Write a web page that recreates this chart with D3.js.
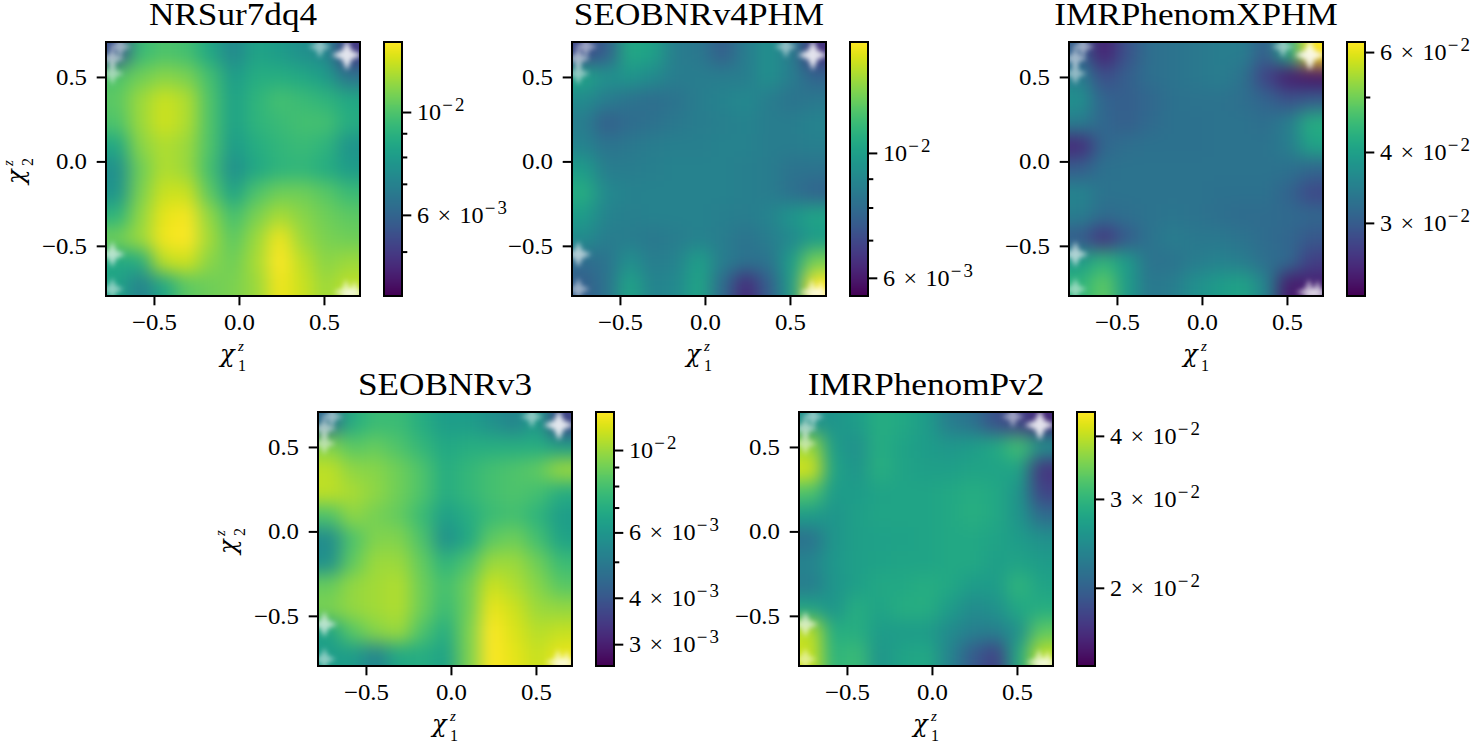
<!DOCTYPE html>
<html><head><meta charset="utf-8">
<style>html,body{margin:0;padding:0;background:#fff;overflow:hidden}svg{display:block}text{font-family:"Liberation Serif",serif;fill:#000}</style>
<script src="https://cdn.jsdelivr.net/npm/d3@7"></script></head><body><script>
// Mismatch values, in units of 1e-3, rows from top (high chi2) to bottom
const nrSur=[
[5.50,9.45,9.94,9.69,8.54,7.26,8.33,8.02,7.53,7.26,5.00],
[9.94,10.7,11.3,11.0,9.69,8.02,8.76,8.76,8.54,8.02,6.48],
[10.3,11.7,12.8,12.2,9.94,8.3,9.1,9.69,9.45,9.1,8.54],
[9.94,11.7,12.9,12.2,9.94,8.3,9.1,9.45,9.69,9.69,8.76],
[8.54,11.3,12.2,11.7,9.94,8.02,8.76,9.2,9.45,9.1,7.72],
[7.53,10.7,12.2,11.7,9.69,7.53,8.54,9.1,9.2,8.76,8.02],
[7.72,11.0,12.8,12.8,10.3,8.33,9.94,10.7,10.7,10.2,9.45],
[9.1,11.5,13.5,13.9,11.5,9.69,11.0,12.0,11.3,10.7,10.3],
[10.7,11.7,13.8,14.16,11.9,10.3,11.7,13.8,11.7,11.0,10.7],
[8.54,8.8,12.5,12.9,11.3,10.7,12.0,14.16,12.5,11.3,11.7],
[8.33,7.0,8.5,10.3,10.7,11.0,11.7,13.8,12.8,11.7,12.5]];
const seobV4=[
[7.0,7.6,10.4,10.1,8.6,8.43,7.6,8.6,9.36,8.6,6.5],
[10.2,9.36,9.56,9.16,8.6,8.6,8.6,8.6,9.36,8.6,7.76],
[9.16,8.6,8.26,8.08,8.26,8.6,8.88,9.07,8.6,8.26,8.43],
[8.6,7.6,8.0,8.17,8.43,8.6,8.69,8.88,8.6,8.6,8.88],
[8.88,8.26,8.43,8.6,8.69,8.69,8.78,8.78,8.6,8.6,8.69],
[9.86,8.6,8.6,8.69,8.78,8.78,8.78,8.69,8.6,8.26,8.26],
[10.6,9.07,8.78,8.78,8.78,8.78,8.78,8.69,8.6,8.17,7.76],
[9.86,8.88,8.69,8.78,8.78,8.78,8.69,8.6,8.88,9.56,10.2],
[9.16,8.6,8.6,8.43,8.6,8.78,8.6,8.26,8.6,9.07,9.86],
[8.0,8.26,9.36,8.6,8.78,9.97,8.6,8.2,8.26,9.86,12.7],
[7.6,8.26,10.2,8.88,9.07,10.2,8.0,6.3,7.6,9.86,15.7]];
const imrX=[
[30.4,24.5,28.9,32.3,33.0,33.7,34.4,34.4,30.4,41.4,62.5],
[34.4,28.5,30.4,32.3,33.0,33.7,34.4,33.0,27.4,24.2,23.5],
[37.3,31.0,30.4,31.3,32.7,33.0,33.0,32.3,31.0,28.9,29.8],
[34.4,31.3,30.4,31.7,32.7,32.7,33.0,33.0,32.3,34.4,42.2],
[25.2,31.3,32.3,32.7,32.7,32.7,33.0,33.0,33.0,34.4,40.5],
[30.4,32.7,33.0,33.0,33.0,33.0,33.0,33.0,33.0,32.7,31.3],
[35.5,33.0,33.0,33.0,33.0,33.0,32.7,32.7,32.7,31.0,27.9],
[34.4,32.0,32.3,33.0,33.3,33.0,32.3,32.0,32.0,31.7,31.3],
[29.8,26.0,29.8,33.0,34.4,33.7,33.7,33.0,32.0,31.3,29.5],
[39.3,43.6,39.3,33.0,33.0,34.4,35.1,34.4,32.3,31.5,27.0],
[43.6,48.4,39.3,33.7,34.4,37.3,39.3,40.5,35.5,24.0,24.5]];
const seobV3=[
[4.55,6.97,7.66,7.66,6.97,6.24,6.24,5.76,5.33,6.24,3.59],
[9.4,8.4,8.75,8.16,7.42,6.75,6.97,6.97,6.97,6.97,6.24],
[10.8,9.7,9.5,8.96,8.16,6.97,7.42,7.91,8.16,8.55,10.0],
[10.8,10.3,9.7,8.96,8.16,6.97,7.42,7.91,8.16,7.91,6.97],
[8.16,9.7,9.1,8.69,7.66,6.34,6.97,7.66,7.91,7.31,6.24],
[5.59,8.16,9.4,9.4,8.16,5.76,6.75,8.55,8.96,7.91,6.54],
[5.76,8.6,10.0,10.0,8.69,7.31,8.16,10.0,10.0,8.96,7.66],
[8.8,9.8,10.2,10.5,8.96,7.91,8.96,11.2,10.5,9.53,8.4],
[9.2,9.8,10.2,10.5,8.96,7.66,8.96,12.1,11.2,10.0,9.8],
[6.54,8.4,9.53,10.0,8.16,6.97,9.23,12.66,11.6,10.6,11.0],
[6.24,6.24,5.33,6.75,6.97,6.54,9.23,12.66,11.9,11.0,12.0]];
const imrP=[
[25.0,25.6,26.5,28.7,28.0,26.5,22.8,21.7,18.7,17.7,16.1],
[37.5,26.5,25.0,28.7,27.4,26.5,25.9,26.5,28.0,31.5,25.0],
[41.2,27.4,25.6,29.0,27.4,26.8,26.8,27.4,27.4,27.4,16.7],
[32.2,26.5,26.5,27.4,27.6,27.6,28.0,28.7,28.0,25.6,17.7],
[26.5,25.6,26.8,27.6,27.6,27.6,28.0,29.0,28.0,25.6,21.0],
[21.7,25.6,26.8,27.0,27.3,27.6,28.0,28.0,27.4,26.5,25.0],
[23.6,25.9,26.8,27.3,27.6,27.6,28.0,28.0,26.8,27.4,26.5],
[22.8,25.6,26.8,28.0,28.0,28.7,28.0,26.5,26.5,29.7,27.4],
[27.4,25.6,28.7,27.4,28.7,28.7,26.5,24.4,25.0,28.0,28.7],
[39.8,28.7,29.0,26.5,26.5,26.5,24.4,23.0,23.0,25.0,33.4],
[40.7,29.7,30.7,25.6,27.4,28.0,23.6,19.5,17.5,28.0,39.8]];

const titles=["NRSur7dq4","SEOBNRv4PHM","IMRPhenomXPHM","SEOBNRv3","IMRPhenomPv2"];
const grids=[nrSur,seobV4,imrX,seobV3,imrP];
// colour limits in units of 1e-3
const vMin=[4.01,5.57,22.3,2.62,14.0];
const vMax=[14.16,15.74,62.5,12.66,44.6];
// colourbar ticks, units of 1e-3
const majorTicks=[[10,6],[10,6],[60,40,30],[10,6,4,3],[40,30,20]];
const minorTicks=[[9,8,7,5],[9,8,7],[50],[9,8,7,5],[]];
const axisTicks=[-0.5,0,0.5];
const chi1Domain=[-0.782,0.712];
const chi2Domain=[-0.797,0.707];
// cells with no simulation: chi1, chi2, whiteness
const holeChi1=[-0.70,-0.745,-0.745,0.476,0.635,-0.745,-0.745,0.63,0.68];
const holeChi2=[0.68,0.61,0.52,0.68,0.63,-0.55,-0.757,-0.775,-0.78];
const holeStrength=[0.55,0.6,0.55,0.55,0.95,0.7,0.55,0.7,0.7];

// layout
const axW=254,axH=254,cbW=18,cbGap=24;
const axLeft=[106,572,1069,318,799];
const axTop=[42,42,42,412,412];
const TICK=23,TITLE=32;

const svg=d3.select("body").append("svg").attr("width",1471).attr("height",743);
const defs=svg.append("defs");
defs.append("filter").attr("id","smooth").attr("filterUnits","userSpaceOnUse")
 .attr("x",-100).attr("y",-100).attr("width",500).attr("height",500)
 .attr("color-interpolation-filters","sRGB")
 .append("feGaussianBlur").attr("stdDeviation",9);
defs.append("filter").attr("id","soft").attr("x","-60%").attr("y","-60%").attr("width","220%").attr("height","220%")
 .append("feGaussianBlur").attr("stdDeviation",2.6);

const star=d3.lineRadial().curve(d3.curveLinearClosed);
function starPath(r){
  const pts=d3.range(8).map(i=>[i*Math.PI/4,i%2?r*0.42:r]);
  return star(pts);
}
function expLabel(g,x,y,man,exp){
  const t=g.append("text").attr("transform",`translate(${x},${y}) scale(1.05,1)`).attr("font-size",TICK);
  if(man!==null){
    t.append("tspan").text(man);
    t.append("tspan").attr("dx",8).text("×");
    t.append("tspan").attr("dx",8).text("10");
  } else t.append("tspan").text("10");
  t.append("tspan").attr("dy",-9).attr("dx",1).attr("font-size",18).attr("letter-spacing",2).text("−"+exp);
}
function chiLabel(g,idx){
  g.append("text").attr("x",-13).attr("y",0).attr("font-size",24).attr("font-style","italic").style("font-family","'DejaVu Serif'").text("χ");
  g.append("text").attr("x",5).attr("y",-11).attr("font-size",15).attr("font-style","italic").text("z");
  g.append("text").attr("x",5).attr("y",9).attr("font-size",16).text(idx);
}

titles.forEach((title,p)=>{
  const g=svg.append("g").attr("transform",`translate(${axLeft[p]},${axTop[p]})`);
  const x=d3.scaleLinear().domain(chi1Domain).range([0,axW]);
  const y=d3.scaleLinear().domain(chi2Domain).range([axH,0]);
  const cols=d3.scaleBand().domain(d3.range(grids[p][0].length)).range([0,axW]);
  const rows=d3.scaleBand().domain(d3.range(grids[p].length)).range([0,axH]);
  const color=d3.scaleSequentialLog(d3.interpolateViridis).domain([vMin[p],vMax[p]]);
  const cells=grids[p].flatMap((r,j)=>r.map((v,i)=>({i,j,v})));
  const nC=grids[p][0].length,nR=grids[p].length,pad=45;

  defs.append("clipPath").attr("id","clip"+p).append("rect").attr("width",axW).attr("height",axH);
  const clip=g.append("g").attr("clip-path",`url(#clip${p})`);
  clip.append("g").attr("filter","url(#smooth)").selectAll("rect").data(cells).join("rect")
    .attr("shape-rendering","crispEdges")
    .attr("x",d=>cols(d.i)-(d.i===0?pad:0))
    .attr("y",d=>rows(d.j)-(d.j===0?pad:0))
    .attr("width",d=>cols.bandwidth()+((d.i===0||d.i===nC-1)?pad:0)+0.5)
    .attr("height",d=>rows.bandwidth()+((d.j===0||d.j===nR-1)?pad:0)+0.5)
    .attr("fill",d=>color(d.v));
  clip.append("g").selectAll("path").data(holeChi1).join("path")
    .attr("d",(d,i)=>starPath(6+10*holeStrength[i]))
    .attr("transform",(d,i)=>`translate(${x(d)},${y(holeChi2[i])})`)
    .attr("fill","#fff").attr("fill-opacity",(d,i)=>0.9*holeStrength[i]).attr("filter","url(#soft)");

  const xAxis=d3.axisBottom(x).tickValues(axisTicks).tickSize(9.3).tickFormat(d3.format(".1f"));
  const yAxis=d3.axisLeft(y).tickValues(axisTicks).tickSize(9.3).tickFormat(d3.format(".1f"));
  const gx=g.append("g").attr("transform",`translate(0,${axH})`).call(xAxis);
  const gy=g.append("g").call(yAxis);
  [gx,gy].forEach(a=>{a.select(".domain").remove();a.selectAll("line").attr("stroke","#000").attr("stroke-width",2);});
  gx.selectAll("text").attr("font-size",TICK).attr("y",null).attr("dy",null)
    .attr("transform","translate(0,34) scale(1.08,1)").attr("text-anchor","middle");
  gy.selectAll("text").attr("font-size",TICK).attr("x",null).attr("dy",null)
    .attr("transform","translate(-19,7.5) scale(1.08,1)").attr("text-anchor","end");
  g.append("rect").attr("width",axW).attr("height",axH).attr("fill","none").attr("stroke","#000").attr("stroke-width",2);

  g.append("text").attr("transform",`translate(${axW/2},-17) scale(1.1,1)`).attr("text-anchor","middle").attr("font-size",TITLE).text(title);
  chiLabel(g.append("g").attr("transform",`translate(${axW/2},${axH+66})`),"1");
  if(p===0||p===3) chiLabel(g.append("g").attr("transform",`translate(-82,${axH/2+2}) rotate(-90)`),"2");

  // colourbar
  const cb=g.append("g").attr("transform",`translate(${axW+cbGap},0)`);
  const cy=d3.scaleLog().domain([vMin[p],vMax[p]]).range([axH,0]);
  const steps=d3.range(0,axH);
  cb.append("g").selectAll("rect").data(steps).join("rect").attr("shape-rendering","crispEdges")
    .attr("x",0).attr("y",d=>d).attr("width",cbW).attr("height",1.5)
    .attr("fill",d=>color(cy.invert(d+0.5)));
  const major=d3.axisRight(cy).tickValues(majorTicks[p]).tickSize(9.3+cbW).tickFormat("");
  const minor=d3.axisRight(cy).tickValues(minorTicks[p]).tickSize(5.3+cbW).tickFormat("");
  [major,minor].forEach(ax=>{
    const a=cb.append("g").call(ax);a.select(".domain").remove();
    a.selectAll("line").attr("stroke","#000").attr("stroke-width",2).attr("x1",cbW);
  });
  majorTicks[p].forEach(v=>{
    const lab=v%10===0&&v>=10&&v!==10?[String(v/10),2]:(v===10?[null,2]:[String(v),3]);
    expLabel(cb,cbW+15,cy(v)+8,lab[0],lab[1]);
  });
  cb.append("rect").attr("width",cbW).attr("height",axH).attr("fill","none").attr("stroke","#000").attr("stroke-width",2);
});
</script></body></html>
